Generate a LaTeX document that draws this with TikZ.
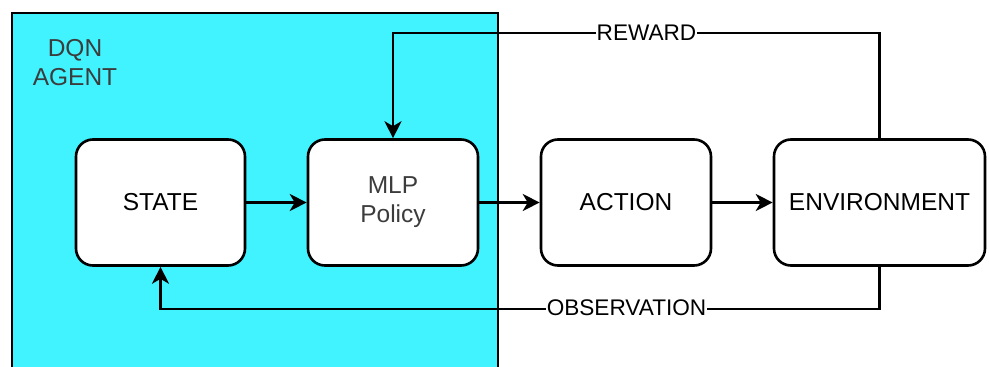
\documentclass[tikz,border=0pt]{standalone}
\usepackage{fontspec}
\setmainfont{Liberation Sans}
\usetikzlibrary{arrows.meta}
\definecolor{agentcyan}{RGB}{64,243,255}
\definecolor{softtext}{RGB}{60,60,60}
\begin{document}
\begin{tikzpicture}[x=1pt,y=-1pt,
  blockbox/.style={draw=black,fill=white,line width=2.6pt,rounded corners=17pt,
    minimum height=126pt,align=center,font=\fontsize{24.5}{29}\selectfont,inner sep=0pt},
  conn/.style={draw=black,line width=2.3pt,-{Stealth[length=17pt,width=17pt,inset=5pt]}},
  plainline/.style={draw=black,line width=2.3pt},
  linelabel/.style={fill=white,inner sep=1pt,font=\fontsize{22.6}{26}\selectfont}]
\useasboundingbox (0,0) rectangle (989,367);
% agent region
\fill[agentcyan] (12,13) rectangle (498,368);
\draw[line width=2.5pt] (12,368) -- (12,13) -- (498,13) -- (498,368);
\node[align=center,text=softtext,font=\fontsize{24.5}{29}\selectfont] (agentlbl) at (75,63) {DQN\\AGENT};
% boxes
\node[blockbox,minimum width=169pt] (state) at (160.5,202.5) {STATE};
\node[blockbox,minimum width=170pt,text=softtext] (mlp) at (393,202.5) {MLP\\Policy};
\node[blockbox,minimum width=170pt] (action) at (626,202.5) {ACTION};
\node[blockbox,minimum width=211pt] (env) at (879.5,202.5) {ENVIRONMENT};
% connectors
\draw[conn] (state) -- (mlp);
\draw[conn] (mlp) -- (action);
\draw[conn] (action) -- (env);
\draw[conn] (env.north) -- ++(0,-105) -| (mlp.north);
\draw[conn] (env.south) -- ++(0,42) -| (state.south);
% labels
\node[linelabel] (rewardlbl) at (646.5,33) {REWARD};
\node[linelabel] (obslbl) at (626.5,308) {OBSERVATION};
\end{tikzpicture}
\end{document}
